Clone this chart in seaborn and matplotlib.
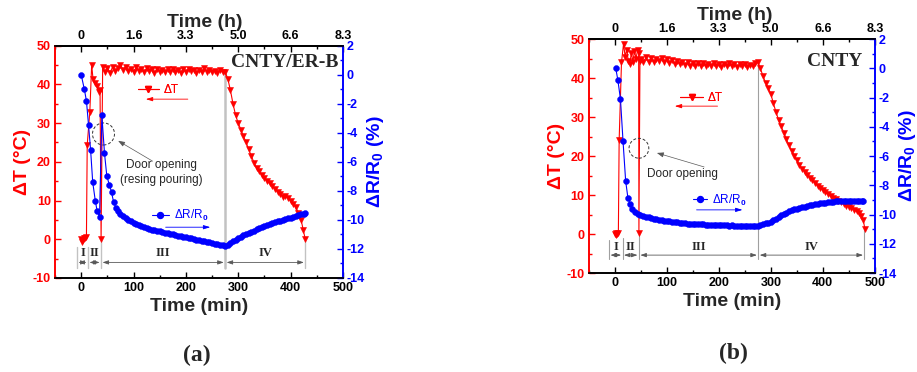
import seaborn as sns
import matplotlib.pyplot as plt
from matplotlib.patches import Ellipse
from matplotlib.lines import Line2D
from matplotlib.ticker import MultipleLocator

sns.set_style("ticks")
plt.rcParams["font.family"] = ["Liberation Sans", "DejaVu Sans"]
plt.rcParams["mathtext.fontset"] = "custom"
plt.rcParams["mathtext.rm"] = "Liberation Sans:bold"
plt.rcParams["mathtext.it"] = "Liberation Sans:bold"
plt.rcParams["mathtext.bf"] = "Liberation Sans:bold"

# ---------------- data ----------------
# (a) CNTY/ER-B : temperature rise (left axis)
a_dT_time = [0, 2, 4, 6, 8, 10, 11.5, 16.5, 20, 22.5, 26, 30, 34, 36, 38, 41] \
    + list(range(45, 425, 5)) + [424, 428]
a_dT = [0, -0.8, -0.3, 0.2, 0.4, 0.5, 24.4, 33.0, 45.1, 41.5, 40.5, 39.5, 38.0, 38.6, 0, 44.5,
        43.2, 44.3, 43.0, 44.5, 43.6, 44.2, 45.0, 43.8, 44.6, 43.4,
        44.1, 43.3, 44.4, 43.5, 43.9, 43.1, 44.2, 43.4, 43.9, 43.0,
        44.0, 43.3, 43.8, 43.1, 43.9, 43.2, 44.0, 43.3, 43.7, 43.0,
        43.9, 43.2, 44.1, 43.4, 43.8, 43.0, 43.7, 43.2, 44.2, 43.3,
        43.8, 43.1, 43.6, 43.0, 43.8, 43.2,
        43.2, 41.5, 38.5, 35.0, 32.0, 30.0, 28.3, 26.6, 25.0, 23.2,
        21.5, 19.8, 18.4, 17.5, 16.6, 15.8, 15.0, 14.4, 13.8, 13.0,
        12.3, 11.8, 11.0, 11.2, 10.6, 10.0, 9.2, 8.2, 6.8, 5.0,
        2.5, 0]
# (a) resistance change (right axis)
a_R_time = [0, 6, 10, 14, 18, 22, 27, 30.5, 35, 39.5, 44.5, 49, 54, 58, 62, 66] \
    + list(range(70, 430, 5)) + [428]
a_R = [0, -1.0, -1.8, -3.45, -5.2, -7.4, -8.7, -9.4, -9.8, -2.8, -5.4, -7.0, -7.6, -8.1, -8.8, -9.15,
       -9.4, -9.6, -9.75, -9.88, -10.0, -10.1, -10.2, -10.28, -10.36, -10.43,
       -10.5, -10.56, -10.62, -10.67, -10.72, -10.76, -10.8, -10.84, -10.88, -10.92,
       -10.96, -11.0, -11.04, -11.08, -11.12, -11.16, -11.2, -11.24, -11.28, -11.32,
       -11.36, -11.4, -11.44, -11.48, -11.52, -11.56, -11.6, -11.64, -11.68, -11.72,
       -11.76, -11.8,
       -11.72, -11.6, -11.48, -11.36, -11.25, -11.15, -11.05, -10.97, -10.9, -10.82,
       -10.74, -10.65, -10.57, -10.5, -10.42, -10.34, -10.28, -10.22, -10.16, -10.11,
       -10.05, -10.0, -9.95, -9.9, -9.84, -9.78, -9.73, -9.68, -9.63, -9.58,
       -9.55]

# (b) CNTY : temperature rise (left axis)
b_dT_time = [0, 1.5, 3, 5, 7, 8.5, 13, 17, 20, 23, 26, 29, 32, 35, 38, 41, 44, 46, 46.5, 48.5] \
    + list(range(50, 475, 5)) + [474, 478, 481]
b_dT = [0, -0.3, 0.2, 0, 0.3, 24.0, 44.0, 48.8, 45.5, 47.3, 44.5, 43.6, 46.5, 44.2, 47.0, 45.0,
        47.2, 46.5, 0.3, 44.5,
        45.0, 44.0, 45.3, 44.2, 45.1, 44.0, 45.0, 44.3, 45.2, 44.1,
        44.8, 43.9, 44.6, 43.6, 44.5, 43.5, 44.2, 43.3, 44.0, 43.2,
        43.9, 43.0, 43.8, 43.1, 43.9, 43.0, 43.7, 43.2, 43.9, 43.0,
        43.6, 42.9, 43.7, 43.1, 43.8, 43.0, 43.6, 42.8, 43.5, 43.0,
        43.6, 42.9, 43.4, 43.0, 43.8, 44.2,
        42.5, 40.5, 38.8, 37.4, 36.0, 33.5, 31.3, 29.3, 27.6, 26.0,
        24.3, 22.8, 21.4, 20.1, 18.9, 17.8, 16.8, 16.0, 15.2, 14.5,
        13.8, 13.1, 12.4, 11.8, 11.3, 10.8, 10.2, 9.7, 9.3, 8.9,
        8.6, 8.2, 7.7, 7.3, 7.0, 6.6, 6.2, 5.8, 5.3,
        4.6, 3.5, 1.2]
# (b) resistance change (right axis)
b_R_time = [2, 6, 11, 16, 21, 25.5, 30, 34, 39, 44, 49] + list(range(55, 480, 5)) + [478]
b_R = [0, -0.8, -2.1, -5.0, -7.7, -8.9, -9.3, -9.65, -9.8, -9.95, -10.05,
       -10.1, -10.15, -10.2, -10.24, -10.28, -10.32, -10.35, -10.38, -10.41, -10.44,
       -10.47, -10.5, -10.52, -10.54, -10.56, -10.58, -10.6, -10.62, -10.63, -10.64,
       -10.65, -10.66, -10.67, -10.68, -10.69, -10.7, -10.71, -10.72, -10.72, -10.73,
       -10.73, -10.74, -10.74, -10.75, -10.74, -10.75, -10.76, -10.75, -10.76, -10.77,
       -10.76, -10.77, -10.77, -10.76, -10.75,
       -10.7, -10.66, -10.6, -10.55, -10.5, -10.4, -10.3, -10.18, -10.06, -9.95,
       -9.86, -9.79, -9.72, -9.65, -9.59, -9.54, -9.5, -9.46, -9.42, -9.38,
       -9.34, -9.3, -9.27, -9.24, -9.21, -9.18, -9.16, -9.14, -9.12, -9.1,
       -9.08, -9.07, -9.06, -9.05, -9.05, -9.05, -9.06, -9.07, -9.08, -9.09,
       -9.1]

# stage boundaries (min) and labels
stage_labels = ["I", "II", "III", "IV"]
a_bounds = [-8, 13, 38, 275, 428]
b_bounds = [-11, 15, 46.5, 276, 480]

# axis ticks
min_ticks = [0, 100, 200, 300, 400, 500]
hour_labels = ["0", "1.6", "3.3", "5.0", "6.6", "8.3"]
dT_ticks = [-10, 0, 10, 20, 30, 40, 50]
R_ticks = [-14, -12, -10, -8, -6, -4, -2, 0, 2]

RED = "#ff0000"
BLUE = "#0000ff"
SERIF = "Liberation Serif"
B = dict(fontweight="bold")


def draw_panel(fig, rect, dT_time, dT, R_time, R, bounds, opt):
    ax = fig.add_axes(rect)
    ax2 = ax.twinx()

    sns.lineplot(x=dT_time, y=dT, ax=ax, color=RED, marker="v", markersize=4.2,
                 markeredgecolor=RED, markeredgewidth=0.4, linewidth=0.8,
                 estimator=None, sort=False)
    sns.lineplot(x=R_time, y=R, ax=ax2, color=BLUE, marker="o", markersize=4.3,
                 markeredgecolor=BLUE, markeredgewidth=0.3, linewidth=0.8,
                 estimator=None, sort=False)

    ax.set_xlim(-50, 500)
    ax.set_ylim(-10, 50)
    ax2.set_ylim(-14, 2)

    # stage markers
    for x, top, lw in zip(bounds, opt["tops"], opt["glw"]):
        ax.plot([x, x], [opt["base"], top], color=opt["gcol"], lw=lw, zorder=1)
    for i, lab in enumerate(stage_labels):
        x0, x1 = bounds[i], bounds[i + 1]
        ax.annotate("", xy=(x1, opt["arrow_y"]), xytext=(x0, opt["arrow_y"]),
                    arrowprops=dict(arrowstyle="<|-|>,head_length=0.35,head_width=0.12",
                                    color="0.35", lw=0.6, shrinkA=1, shrinkB=1))
        ax.text((x0 + x1) / 2, opt["label_y"], lab, ha="center", va="center",
                fontsize=9, family=SERIF, fontweight="bold")

    # legends with arrows
    h1 = Line2D([], [], color=RED, marker="v", markersize=4.2, lw=0.8)
    lg1 = ax.legend([h1], ["ΔT"], loc="center left", bbox_to_anchor=opt["leg1"],
                    frameon=False, borderpad=0, borderaxespad=0,
                    handlelength=opt["hl1"], handletextpad=0.4,
                    prop={"size": 8.5, "weight": "normal"}, labelcolor=RED)
    ax.add_artist(lg1)
    h2 = Line2D([], [], color=BLUE, marker="o", markersize=4.3, lw=0.8)
    ax2.legend([h2], ["ΔR/R$_0$"], loc="center left", bbox_to_anchor=opt["leg2"],
               frameon=False, borderpad=0, borderaxespad=0,
               handlelength=opt["hl2"], handletextpad=0.4,
               prop={"size": 8.5, "weight": "normal"}, labelcolor=BLUE)
    ax.annotate("", xy=opt["arr1"][1], xytext=opt["arr1"][0],
                arrowprops=dict(arrowstyle="-|>,head_length=0.4,head_width=0.12",
                                color=RED, lw=0.6))
    ax.annotate("", xy=opt["arr2"][1], xytext=opt["arr2"][0],
                arrowprops=dict(arrowstyle="-|>,head_length=0.4,head_width=0.12",
                                color=BLUE, lw=0.6))

    # door opening note
    cx, cy, w, h = opt["circle"]
    ax.add_patch(Ellipse((cx, cy), w, h, fill=False, ls=(0, (3, 2)), lw=0.7, ec="0.2", zorder=5))
    ax.text(opt["door_xy"][0], opt["door_xy"][1], opt["door_text"], ha="center", va="center",
            fontsize=8.5, linespacing=1.35)
    ax.annotate("", xy=opt["door_arrow"][1], xytext=opt["door_arrow"][0],
                arrowprops=dict(arrowstyle="-|>,head_length=0.4,head_width=0.15",
                                color="0.35", lw=0.5))

    ax.text(opt["name_x"], opt["name_y"], opt["name"], transform=ax.transAxes, ha="right",
            va="center", fontsize=14, family=SERIF, fontweight="bold")

    # axes styling
    ax.set_xticks(min_ticks, labels=[str(t) for t in min_ticks], **B)
    ax.xaxis.set_minor_locator(MultipleLocator(50))
    ax.set_yticks(dT_ticks, labels=[str(t) for t in dT_ticks], **B)
    ax.yaxis.set_minor_locator(MultipleLocator(5))
    ax2.set_yticks(R_ticks, labels=[str(t) for t in R_ticks], **B)
    ax2.yaxis.set_minor_locator(MultipleLocator(1))
    ax.tick_params(axis="x", which="both", direction="in", colors="black", labelsize=9, pad=3)
    ax.tick_params(axis="y", which="both", direction="in", colors=RED, labelsize=9, pad=3)
    ax2.tick_params(axis="y", which="both", direction="in", colors=BLUE, labelsize=9, pad=2.5)
    for a in (ax, ax2):
        a.tick_params(which="major", length=4, width=1)
        a.tick_params(which="minor", length=2.2, width=1)
        for s in a.spines.values():
            s.set_linewidth(1.2)
            s.set_color("black")
        a.spines["left"].set_color(RED)
        a.spines["right"].set_color(BLUE)

    ax.set_xlabel("Time (min)", fontsize=14, labelpad=3, **B)
    ax.set_ylabel("ΔT (°C)", fontsize=14, color=RED, labelpad=1, **B)
    ax2.set_ylabel("ΔR/R$_0$ (%)", fontsize=14, color=BLUE, labelpad=0, **B)

    top = ax.secondary_xaxis("top")
    top.set_xticks(min_ticks, labels=hour_labels, **B)
    top.xaxis.set_minor_locator(MultipleLocator(50))
    top.tick_params(which="both", direction="in", labelsize=9, pad=3, colors="black")
    top.tick_params(which="major", length=4, width=1)
    top.tick_params(which="minor", length=2.2, width=1)
    top.spines["top"].set_linewidth(1.2)
    top.spines["top"].set_color("black")
    top.set_xlabel("Time (h)", fontsize=14, labelpad=2, **B)
    top.xaxis.label.set_x(opt["toplab_x"])
    return ax


fig = plt.figure(figsize=(9.17, 3.72), dpi=100)

opt_a = dict(tops=[-2, -2, 0, 43.2, 0], base=-7.4, glw=[1.0, 1.0, 1.0, 1.8, 1.0],
             gcol="#c2c2c2", arrow_y=-6.0, label_y=-3.6,
             leg1=(0.288, 0.81), hl1=1.75, leg2=(0.336, 0.267), hl2=1.45,
             arr1=((209, 36.2), (118, 36.2)), arr2=((156, 3.1), (252, 3.1)),
             circle=(42.6, 27.2, 42, 5.7), door_xy=(153, 17.2),
             door_text="Door opening\n(resing pouring)",
             door_arrow=((141, 19.8), (66, 25.8)),
             name="CNTY/ER-B", name_x=0.985, name_y=0.927, toplab_x=0.52)
opt_b = dict(tops=[-1.5, -1, 0.3, 44.2, 1.2], base=-6.3, glw=[0.8] * 5,
             gcol="#a0a0a0", arrow_y=-5.4, label_y=-3.3,
             leg1=(0.318, 0.747), hl1=2.0, leg2=(0.365, 0.312), hl2=1.2,
             arr1=((203, 32.8), (110, 32.8)), arr2=((152, 6.2), (251, 6.2)),
             circle=(46.5, 22.0, 38, 5.1), door_xy=(131, 15.4),
             door_text="Door opening",
             door_arrow=((177, 17.0), (76, 21.0)),
             name="CNTY", name_x=0.955, name_y=0.903, toplab_x=0.509)

draw_panel(fig, [0.060, 0.253, 0.314, 0.624], a_dT_time, a_dT, a_R_time, a_R, a_bounds, opt_a)
draw_panel(fig, [0.642, 0.266, 0.312, 0.629], b_dT_time, b_dT, b_R_time, b_R, b_bounds, opt_b)

fig.text(197 / 917, 1 - 355 / 372, "(a)", ha="center", va="center", fontsize=17,
         family=SERIF, fontweight="bold")
fig.text(733 / 917, 1 - 353 / 372, "(b)", ha="center", va="center", fontsize=17,
         family=SERIF, fontweight="bold")

fig.savefig("out.png", dpi=100)
